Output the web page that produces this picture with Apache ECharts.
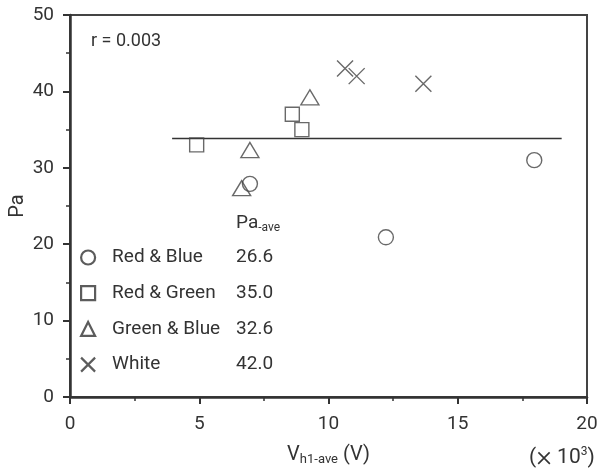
<!DOCTYPE html>
<html>
<head>
<meta charset="utf-8">
<title>Pa vs Vh1-ave</title>
<script src="https://cdn.jsdelivr.net/npm/echarts@6/dist/echarts.min.js"></script>
<style>
  html, body { margin: 0; padding: 0; background: #fff; }
  #chart { width: 600px; height: 468px; }
</style>
</head>
<body>
<div id="chart"></div>
<script>
// Light-source groups and their mean Pa values
const groupNames = ['Red & Blue', 'Red & Green', 'Green & Blue', 'White'];
const groupAverages = ['26.6', '35.0', '32.6', '42.0'];

// Vh1-ave (×10^3 V) and Pa for each measurement
const redBlueX = [6.96, 12.22, 17.96];
const redBlueY = [27.9, 20.9, 31.0];
const redGreenX = [4.9, 8.6, 8.97];
const redGreenY = [33.0, 37.0, 35.0];
const greenBlueX = [6.96, 6.64, 9.28];
const greenBlueY = [32.0, 27.0, 38.9];
const whiteX = [10.64, 11.09, 13.67];
const whiteY = [43.0, 42.0, 41.0];

// Regression line (r = 0.003)
const fitX = [3.95, 19.02];
const fitY = [33.85, 33.85];

const xTicks = [0, 5, 10, 15, 20];
const yTicks = [0, 10, 20, 30, 40, 50];

const FONT = 'Roboto';
const INK = '#333';
const crossPath = 'path://M0,0L10,10M10,0L0,10';

const zip = (xs, ys) => xs.map((x, i) => [x, ys[i]]);

const markerStyle = { color: 'rgba(0,0,0,0)', borderColor: '#444', borderWidth: 1.4 };

// Triangles are anchored at their centroid rather than the box centre
const groups = [
  { x: redBlueX, y: redBlueY, symbol: 'circle', size: 15, offset: [0, 0] },
  { x: redGreenX, y: redGreenY, symbol: 'rect', size: 14, offset: [0, 0] },
  { x: greenBlueX, y: greenBlueY, symbol: 'triangle', size: [18, 15], offset: [0, -2.5] },
  { x: whiteX, y: whiteY, symbol: crossPath, size: 16, offset: [0, 0] }
];

const scatterSeries = groups.map((g, i) => ({
  name: groupNames[i],
  type: 'scatter',
  symbol: g.symbol,
  symbolSize: g.size,
  symbolOffset: g.offset,
  itemStyle: markerStyle,
  data: zip(g.x, g.y),
  z: 3
}));

const chart = echarts.init(document.getElementById('chart'), null, { renderer: 'canvas' });

chart.setOption({
  animation: false,
  backgroundColor: '#fff',
  textStyle: { fontFamily: FONT, color: INK },
  grid: {
    left: 70, right: 13, top: 15, bottom: 71,
    containLabel: false,
    outerBoundsMode: 'none',
    show: true, borderColor: '#444', borderWidth: 2, backgroundColor: 'transparent'
  },
  xAxis: {
    type: 'value',
    min: xTicks[0], max: xTicks[xTicks.length - 1], interval: 5,
    name: 'V{sub|h1-ave} (V)',
    nameLocation: 'middle',
    nameGap: 47,
    nameMoveOverlap: false,
    nameTextStyle: {
      fontFamily: FONT, fontSize: 20, color: INK,
      rich: { sub: { fontFamily: FONT, fontSize: 13, color: INK, verticalAlign: 'bottom', padding: [9, 0, 0, 0] } }
    },
    axisLine: { lineStyle: { color: INK, width: 2.5 } },
    axisTick: { length: 7, lineStyle: { color: INK, width: 2 } },
    minorTick: { show: true, splitNumber: 2, length: 4, lineStyle: { color: INK, width: 1.5 } },
    axisLabel: { fontFamily: FONT, fontSize: 19, color: INK, margin: 18 },
    splitLine: { show: false }
  },
  yAxis: {
    type: 'value',
    min: yTicks[0], max: yTicks[yTicks.length - 1], interval: 10,
    name: 'Pa',
    nameLocation: 'middle',
    nameGap: 42,
    nameMoveOverlap: false,
    nameRotate: 90,
    nameTextStyle: { fontFamily: FONT, fontSize: 20, color: INK },
    axisLine: { lineStyle: { color: INK, width: 2.5 } },
    axisTick: { length: 7, lineStyle: { color: INK, width: 2 } },
    minorTick: { show: true, splitNumber: 2, length: 4, lineStyle: { color: INK, width: 1.5 } },
    axisLabel: { fontFamily: FONT, fontSize: 19, color: INK, margin: 16, padding: [8, 0, 0, 0] },
    splitLine: { show: false }
  },
  legend: {
    orient: 'vertical',
    left: 75,
    top: 243,
    itemWidth: 14,
    itemHeight: 14,
    itemGap: 16.7,
    selectedMode: false,
    data: [
      { name: groupNames[0], icon: 'circle' },
      { name: groupNames[1], icon: 'rect' },
      { name: groupNames[2], icon: 'triangle' },
      { name: groupNames[3], icon: crossPath }
    ],
    itemStyle: { color: 'rgba(0,0,0,0)', borderColor: INK, borderWidth: 2.2 },
    formatter: name => `{n|${name}}{v|${groupAverages[groupNames.indexOf(name)]}}`,
    textStyle: {
      fontFamily: FONT, fontSize: 19, color: INK,
      rich: {
        n: { fontFamily: FONT, fontSize: 19, lineHeight: 20, color: INK, width: 124, padding: [0, 0, 0, 12] },
        v: { fontFamily: FONT, fontSize: 19, lineHeight: 20, color: INK }
      }
    }
  },
  graphic: [
    {
      type: 'text', left: 91, top: 32,
      style: { text: 'r = 0.003', font: `18px "${FONT}"`, fill: INK }
    },
    {
      type: 'text', left: 236, top: 214,
      style: {
        text: 'Pa{sub|-ave}',
        font: `19px "${FONT}"`, fill: INK,
        rich: { sub: { fontFamily: FONT, fontSize: 12, fill: INK, verticalAlign: 'bottom', padding: [8, 0, 0, 0] } }
      }
    },
    {
      type: 'text', left: 529, top: 443,
      style: {
        text: '({x|×} 10{sup|3})',
        font: `21px "${FONT}"`, fill: INK,
        rich: {
          x: { fontFamily: FONT, fontSize: 30, fontWeight: 300, fill: INK, lineHeight: 24 },
          sup: { fontFamily: FONT, fontSize: 12, fill: INK, verticalAlign: 'top', padding: [0, 0, 8, 0] }
        }
      }
    }
  ],
  series: [
    ...scatterSeries,
    {
      name: 'fit',
      type: 'line',
      data: zip(fitX, fitY),
      showSymbol: false,
      silent: true,
      lineStyle: { color: INK, width: 1.5 },
      z: 2
    }
  ]
});
</script>
</body>
</html>
